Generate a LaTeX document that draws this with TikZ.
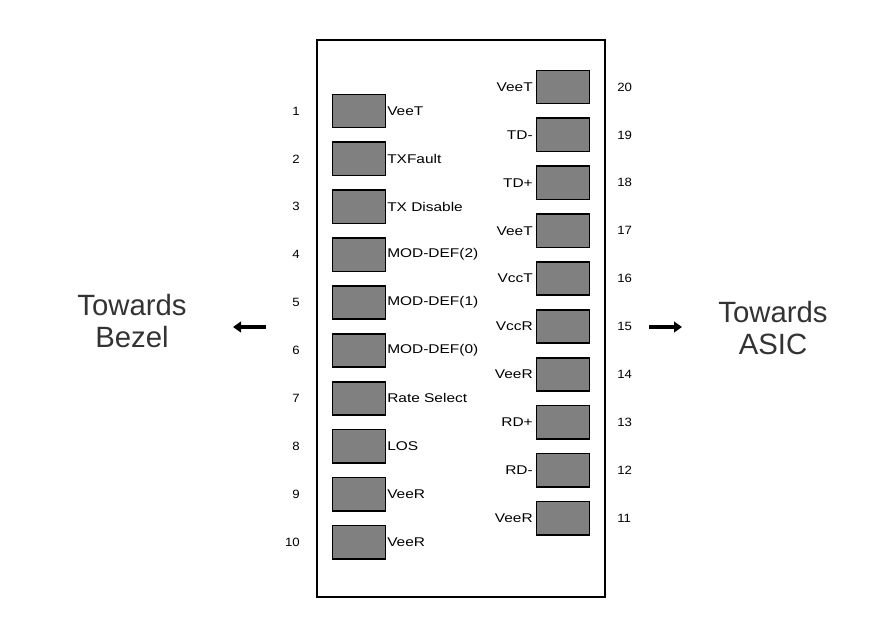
\documentclass[tikz,border=0pt]{standalone}
\usepackage{fontspec}
\setmainfont{Liberation Sans}
\newfontfamily\widesans[FakeStretch=1.22]{Liberation Sans}
\newfontfamily\pinsans[FakeStretch=1.1]{Liberation Sans}
\usetikzlibrary{arrows.meta}
\begin{document}
\begin{tikzpicture}[x=0.75pt, y=-0.75pt, >={Triangle[length=6pt,width=8pt]}]
  \tikzset{
    pad/.style={draw=black, line width=1.2pt, fill=black!50, minimum width=40pt, minimum height=25pt, inner sep=0pt},
    pin/.style={font=\pinsans\fontsize{9}{10}\selectfont, inner sep=0pt},
    sig/.style={font=\widesans\fontsize{9.5}{10}\selectfont, inner sep=0pt},
    side/.style={font=\fontsize{22}{24.5}\selectfont, align=center, text=black!80}
  }
  \useasboundingbox (0,0) rectangle (883,640);

  \node[draw, line width=1.1pt, minimum width=216pt, minimum height=418pt, inner sep=0pt] (module) at (461,318.5) {};

  % left row, pins 1..10
  \foreach \n/\s in {1/VeeT, 2/TXFault, 3/TX Disable, 4/MOD-DEF(2), 5/MOD-DEF(1),
                     6/MOD-DEF(0), 7/Rate Select, 8/LOS, 9/VeeR, 10/VeeR} {
    \node[pad] (L\n) at (359, 63.1+47.9*\n) {};
    \node[sig, anchor=west] (LS\n) at (387, 63.1+47.9*\n) {\s};
    \node[pin, anchor=east] (LN\n) at (300, 63.1+47.9*\n) {\n};
  }

  % right row, pins 20..11
  \foreach \n/\s in {20/VeeT, 19/TD-, 18/TD+, 17/VeeT, 16/VccT,
                     15/VccR, 14/VeeR, 13/RD+, 12/RD-, 11/VeeR} {
    \node[pad] (R\n) at (563, 87+47.9*20-47.9*\n) {};
    \node[sig, anchor=east] (RS\n) at (533, 87+47.9*20-47.9*\n) {\s};
    \node[pin, anchor=west] (RN\n) at (617, 87+47.9*20-47.9*\n) {\n};
  }

  \node[side] (bezel) at (132,321) {Towards\\Bezel};
  \node[side] (asic) at (773,328) {Towards\\ASIC};

  \coordinate (b1) at (266,327);
  \coordinate (b2) at (233,327);
  \coordinate (a1) at (649,327);
  \coordinate (a2) at (682,327);
  \draw[->, line width=2.6pt] (b1) -- (b2);
  \draw[->, line width=2.6pt] (a1) -- (a2);
\end{tikzpicture}
\end{document}
